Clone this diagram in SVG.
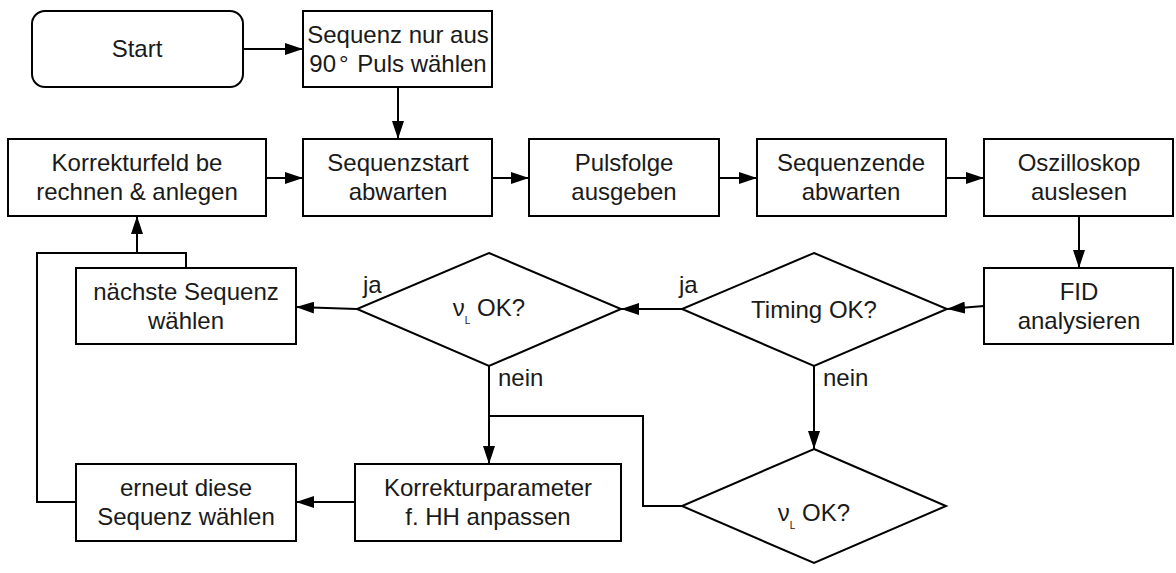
<svg xmlns="http://www.w3.org/2000/svg" width="1176" height="573" viewBox="0 0 1176 573">
<defs>
<style>
.box{fill:#fff;stroke:#000;stroke-width:2}
.t{font-family:"Liberation Sans",Arial,sans-serif;font-size:24px;fill:#1a1a1a;text-anchor:middle}
.l{font-family:"Liberation Sans",Arial,sans-serif;font-size:24px;fill:#1a1a1a}
.c{fill:none;stroke:#000;stroke-width:2}
.a{fill:none;stroke:#000;stroke-width:2;marker-end:url(#ah)}
</style>
<marker id="ah" markerUnits="userSpaceOnUse" markerWidth="18" markerHeight="12" refX="18" refY="6" orient="auto">
<path d="M0,0 L18,6 L0,12 z" fill="#000"/>
</marker>
</defs>
<rect width="1176" height="573" fill="#fff"/>
<g id="connectors">
<path class="a" d="M243,49 H303"/>
<path class="a" d="M398,87 V139"/>
<path class="a" d="M266,178 H303"/>
<path class="a" d="M492,178 H529"/>
<path class="a" d="M719,178 H757"/>
<path class="a" d="M946,178 H984"/>
<path class="a" d="M1079,216 V268"/>
<path class="a" d="M984,306 L947,309"/>
<path class="a" d="M682,309 H621"/>
<path class="a" d="M357,309 L296,307"/>
<path class="c" d="M186,268 V253 H37 V502 H76"/>
<path class="a" d="M137,253 V216"/>
<path class="a" d="M489,366 V464"/>
<path class="c" d="M489,416 H643 V506 H682"/>
<path class="a" d="M814,366 V449"/>
<path class="a" d="M355,502 H296"/>
<text class="l" x="363" y="293">ja</text>
<text class="l" x="679" y="293">ja</text>
<text class="l" x="498" y="386">nein</text>
<text class="l" x="823" y="386">nein</text>
</g>
<g id="start">
<rect class="box" x="32" y="11" width="211" height="76" rx="13"/>
<text class="t" x="137" y="57">Start</text>
</g>
<g id="seq90">
<rect class="box" x="303" y="11" width="189" height="76"/>
<text class="t" x="398" y="43">Sequenz nur aus</text>
<text class="t" x="398" y="72">90<tspan dx="3">°</tspan><tspan dx="2"> Puls wählen</tspan></text>
</g>
<g id="korrekturfeld">
<rect class="box" x="8" y="139" width="258" height="77"/>
<text class="t" x="137" y="171">Korrekturfeld be</text>
<text class="t" x="137" y="200">rechnen &amp; anlegen</text>
</g>
<g id="sequenzstart">
<rect class="box" x="303" y="139" width="189" height="77"/>
<text class="t" x="398" y="171">Sequenzstart</text>
<text class="t" x="398" y="200">abwarten</text>
</g>
<g id="pulsfolge">
<rect class="box" x="529" y="139" width="190" height="77"/>
<text class="t" x="624" y="171">Pulsfolge</text>
<text class="t" x="624" y="200">ausgeben</text>
</g>
<g id="sequenzende">
<rect class="box" x="757" y="139" width="189" height="77"/>
<text class="t" x="851" y="171">Sequenzende</text>
<text class="t" x="851" y="200">abwarten</text>
</g>
<g id="oszilloskop">
<rect class="box" x="984" y="139" width="189" height="77"/>
<text class="t" x="1079" y="171">Oszilloskop</text>
<text class="t" x="1079" y="200">auslesen</text>
</g>
<g id="fid">
<rect class="box" x="984" y="268" width="189" height="76"/>
<text class="t" x="1079" y="300">FID</text>
<text class="t" x="1079" y="329">analysieren</text>
</g>
<g id="timing">
<path class="box" d="M814,253 L947,309 L814,366 L682,309 z"/>
<text class="t" x="814" y="318">Timing OK?</text>
</g>
<g id="nu1">
<path class="box" d="M489,253 L621,309 L489,366 L357,309 z"/>
<text class="t" x="489" y="316">ν<tspan font-size="10" dy="8">L</tspan><tspan dy="-8"> OK?</tspan></text>
</g>
<g id="naechste">
<rect class="box" x="76" y="268" width="220" height="76"/>
<text class="t" x="186" y="300">nächste Sequenz</text>
<text class="t" x="186" y="329">wählen</text>
</g>
<g id="nu2">
<path class="box" d="M814,449 L946,506 L814,563 L682,506 z"/>
<text class="t" x="814" y="521">ν<tspan font-size="10" dy="8">L</tspan><tspan dy="-8"> OK?</tspan></text>
</g>
<g id="korrekturparameter">
<rect class="box" x="355" y="464" width="266" height="77"/>
<text class="t" x="488" y="496">Korrekturparameter</text>
<text class="t" x="488" y="525">f. HH anpassen</text>
</g>
<g id="erneut">
<rect class="box" x="76" y="464" width="220" height="77"/>
<text class="t" x="186" y="496">erneut diese</text>
<text class="t" x="186" y="525">Sequenz wählen</text>
</g>
</svg>
